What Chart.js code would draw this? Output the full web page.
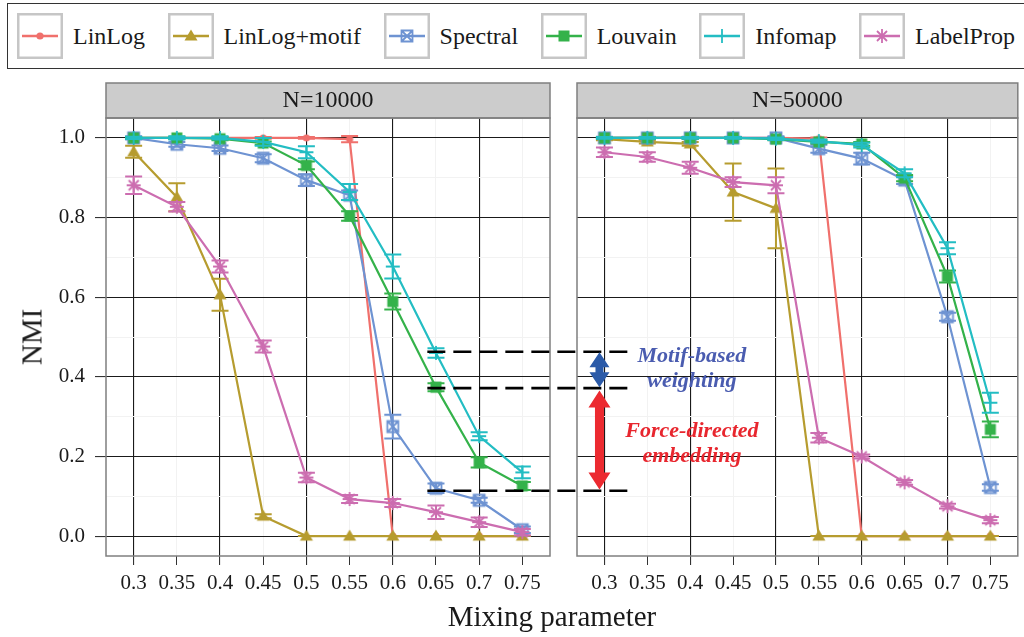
<!DOCTYPE html>
<html lang="en">
<head>
<meta charset="UTF-8">
<title>NMI - mixing parameter</title>
<script src="https://cdn.jsdelivr.net/npm/chart.js"></script>
<style>
    body { margin: 0; width: 1024px; height: 637px; position: relative; overflow: hidden; background: #fff;
           font-family: "Liberation Serif", "DejaVu Serif", serif; color: #1a1a1a; }
    .legenda { position: absolute; left: 7px; top: 3px; width: 1040px; height: 66px; box-sizing: border-box;
               border: 1.5px solid #333; display: flex; align-items: center; padding-left: 9px; }
    .item { display: flex; align-items: center; margin-right: 22.5px; font-size: 24px; white-space: nowrap; }
    .item canvas { margin-right: 10px; }
    #painel1 { position: absolute; left: 0; top: 75px; }
    #painel2 { position: absolute; left: 560px; top: 75px; }
    #anotacao { position: absolute; left: 0; top: 0; pointer-events: none; }
    .tituloX { position: absolute; left: 96px; width: 912px; top: 600px; text-align: center; font-size: 29px; }
    .tituloY { position: absolute; left: 32px; top: 337px; font-size: 29px; transform: translate(-50%, -50%) rotate(-90deg); }
</style>
</head>
<body>

<div class="legenda" id="legenda"></div>

<canvas id="painel1" width="560" height="562"></canvas>
<canvas id="painel2" width="464" height="562"></canvas>
<canvas id="anotacao" width="1024" height="637"></canvas>

<div class="tituloY">NMI</div>
<div class="tituloX">Mixing parameter</div>

<script>
    // ---- dados ----
    const mistura = [0.3, 0.35, 0.4, 0.45, 0.5, 0.55, 0.6, 0.65, 0.7, 0.75];
    const xRotulos = ['0.3', '0.35', '0.4', '0.45', '0.5', '0.55', '0.6', '0.65', '0.7', '0.75'];
    const yTicks = [0, 0.1, 0.2, 0.3, 0.4, 0.5, 0.6, 0.7, 0.8, 0.9, 1.0];
    const yRotulos = ['0.0', '', '0.2', '', '0.4', '', '0.6', '', '0.8', '', '1.0'];

    const metodos = ['LinLog', 'LinLog+motif', 'Spectral', 'Louvain', 'Infomap', 'LabelProp'];
    const paineis = ['N=10000', 'N=50000'];

    // N=10000
    const linlog10k    = [1.000, 1.000, 1.000, 1.000, 1.000, 0.997, 0.000, 0.000, 0.000, 0.000];
    const motif10k     = [0.965, 0.851, 0.606, 0.050, 0.000, 0.000, 0.000, 0.000, 0.000, 0.000];
    const spectral10k  = [1.000, 0.984, 0.974, 0.949, 0.894, 0.856, 0.275, 0.120, 0.090, 0.016];
    const louvain10k   = [1.000, 1.000, 0.998, 0.987, 0.931, 0.804, 0.589, 0.374, 0.185, 0.126];
    const infomap10k   = [1.000, 1.000, 1.000, 0.990, 0.964, 0.864, 0.677, 0.460, 0.251, 0.160];
    const labelprop10k = [0.881, 0.827, 0.677, 0.476, 0.147, 0.093, 0.083, 0.060, 0.035, 0.010];

    const linlog10kErro    = [0.001, 0.001, 0.001, 0.002, 0.002, 0.008, 0.000, 0.000, 0.000, 0.000];
    const motif10kErro     = [0.015, 0.035, 0.040, 0.005, 0.000, 0.000, 0.000, 0.000, 0.000, 0.000];
    const spectral10kErro  = [0.004, 0.006, 0.007, 0.010, 0.015, 0.012, 0.030, 0.012, 0.006, 0.008];
    const louvain10kErro   = [0.002, 0.003, 0.004, 0.004, 0.010, 0.012, 0.020, 0.010, 0.013, 0.010];
    const infomap10kErro   = [0.003, 0.004, 0.004, 0.010, 0.015, 0.020, 0.030, 0.012, 0.010, 0.015];
    const labelprop10kErro = [0.022, 0.012, 0.015, 0.015, 0.012, 0.010, 0.010, 0.017, 0.012, 0.008];

    // N=50000
    const linlog50k    = [1.000, 1.000, 1.000, 1.000, 1.000, 0.998, 0.000, 0.000, 0.000, 0.000];
    const motif50k     = [0.997, 0.990, 0.985, 0.864, 0.823, 0.000, 0.000, 0.000, 0.000, 0.000];
    const spectral50k  = [1.000, 1.000, 1.000, 1.000, 1.000, 0.973, 0.948, 0.894, 0.551, 0.122];
    const louvain50k   = [1.000, 1.000, 1.000, 1.000, 0.997, 0.990, 0.985, 0.899, 0.652, 0.268];
    const infomap50k   = [1.000, 1.000, 1.000, 1.000, 0.998, 0.992, 0.982, 0.911, 0.723, 0.335];
    const labelprop50k = [0.964, 0.952, 0.925, 0.889, 0.881, 0.247, 0.200, 0.135, 0.075, 0.040];

    const linlog50kErro    = [0.001, 0.001, 0.001, 0.001, 0.002, 0.003, 0.000, 0.000, 0.000, 0.000];
    const motif50kErro     = [0.003, 0.004, 0.005, 0.072, 0.100, 0.000, 0.000, 0.000, 0.000, 0.000];
    const spectral50kErro  = [0.003, 0.003, 0.003, 0.003, 0.004, 0.010, 0.015, 0.010, 0.010, 0.008];
    const louvain50kErro   = [0.002, 0.002, 0.002, 0.002, 0.003, 0.004, 0.005, 0.008, 0.015, 0.020];
    const infomap50kErro   = [0.002, 0.002, 0.002, 0.002, 0.003, 0.004, 0.006, 0.010, 0.015, 0.025];
    const labelprop50kErro = [0.012, 0.012, 0.015, 0.012, 0.020, 0.012, 0.005, 0.006, 0.006, 0.008];

    // niveis das linhas tracejadas (painel N=10000)
    const niveisTracejado = [0.463, 0.3715, 0.114];

    // ---- estilo ----
    const cores = ['#f0706c', '#b69c2f', '#6e93d2', '#34b24a', '#23bdc3', '#cc6db0'];
    const marcadores = ['ponto', 'triangulo', 'quadradoX', 'quadrado', 'mais', 'asterisco'];
    const fonte = '"Liberation Serif", "DejaVu Serif", serif';

    function desenharMarcador(ctx, tipo, cx, cy, cor) {
        ctx.save();
        ctx.fillStyle = cor;
        ctx.strokeStyle = cor;
        ctx.lineWidth = 1.8;
        ctx.beginPath();
        if (tipo == 'ponto') {
            ctx.arc(cx, cy, 3.6, 0, Math.PI * 2);
            ctx.fill();
        } else if (tipo == 'triangulo') {
            ctx.moveTo(cx, cy - 6.5);
            ctx.lineTo(cx + 6.5, cy + 4.5);
            ctx.lineTo(cx - 6.5, cy + 4.5);
            ctx.closePath();
            ctx.fill();
        } else if (tipo == 'quadradoX') {
            ctx.rect(cx - 5.5, cy - 5.5, 11, 11);
            ctx.moveTo(cx - 5.5, cy - 5.5); ctx.lineTo(cx + 5.5, cy + 5.5);
            ctx.moveTo(cx + 5.5, cy - 5.5); ctx.lineTo(cx - 5.5, cy + 5.5);
            ctx.stroke();
        } else if (tipo == 'quadrado') {
            ctx.fillRect(cx - 5.5, cy - 5.5, 11, 11);
        } else if (tipo == 'mais') {
            ctx.moveTo(cx - 7, cy); ctx.lineTo(cx + 7, cy);
            ctx.moveTo(cx, cy - 7); ctx.lineTo(cx, cy + 7);
            ctx.stroke();
        } else if (tipo == 'asterisco') {
            ctx.moveTo(cx - 7, cy); ctx.lineTo(cx + 7, cy);
            ctx.moveTo(cx, cy - 7); ctx.lineTo(cx, cy + 7);
            ctx.moveTo(cx - 5, cy - 5); ctx.lineTo(cx + 5, cy + 5);
            ctx.moveTo(cx + 5, cy - 5); ctx.lineTo(cx - 5, cy + 5);
            ctx.stroke();
        }
        ctx.restore();
    }

    function imagemMarcador(tipo, cor) {
        const c = document.createElement('canvas');
        c.width = 18;
        c.height = 18;
        desenharMarcador(c.getContext('2d'), tipo, 9, 9, cor);
        return c;
    }

    // legenda em HTML
    const legenda = document.getElementById('legenda');
    for (let i = 0; i < metodos.length; i++) {
        const item = document.createElement('div');
        item.className = 'item';
        const chave = document.createElement('canvas');
        chave.width = 46;
        chave.height = 46;
        const c = chave.getContext('2d');
        c.strokeStyle = '#c6c6c6';
        c.lineWidth = 2.5;
        c.strokeRect(1.25, 1.25, 43.5, 43.5);
        c.strokeStyle = cores[i];
        c.lineWidth = 2.5;
        c.beginPath();
        c.moveTo(5, 23);
        c.lineTo(41, 23);
        c.stroke();
        desenharMarcador(c, marcadores[i], 23, 23, cores[i]);
        const texto = document.createElement('span');
        texto.textContent = metodos[i];
        item.appendChild(chave);
        item.appendChild(texto);
        legenda.appendChild(item);
    }

    // barras de erro, desenhadas logo apos cada serie
    const pluginErro = {
        id: 'barrasErro',
        afterDatasetDraw(chart, args) {
            const ds = chart.data.datasets[args.index];
            if (!ds.erro) return;
            const ctx = chart.ctx;
            const sx = chart.scales.x;
            const sy = chart.scales.y;
            const a = chart.chartArea;
            ctx.save();
            ctx.beginPath();
            ctx.rect(a.left, a.top, a.width, a.height);
            ctx.clip();
            ctx.strokeStyle = ds.borderColor;
            ctx.lineWidth = 2;
            for (let i = 0; i < ds.data.length; i++) {
                const p = ds.data[i];
                const e = ds.erro[i];
                const x = sx.getPixelForValue(p.x);
                const y1 = sy.getPixelForValue(p.y - e);
                const y2 = sy.getPixelForValue(p.y + e);
                ctx.beginPath();
                ctx.moveTo(x, y1); ctx.lineTo(x, y2);
                ctx.moveTo(x - 8.5, y1); ctx.lineTo(x + 8.5, y1);
                ctx.moveTo(x - 8.5, y2); ctx.lineTo(x + 8.5, y2);
                ctx.stroke();
            }
            ctx.restore();
        }
    };

    // faixa cinza com o titulo do painel e moldura
    const pluginPainel = {
        id: 'painel',
        afterDraw(chart, args, opts) {
            const ctx = chart.ctx;
            const a = chart.chartArea;
            ctx.save();
            ctx.fillStyle = '#cccccc';
            ctx.fillRect(a.left, a.top - 35, a.width, 35);
            ctx.strokeStyle = '#7f7f7f';
            ctx.lineWidth = 1.5;
            ctx.strokeRect(a.left, a.top - 35, a.width, 35);
            ctx.strokeRect(a.left, a.top, a.width, a.height);
            ctx.fillStyle = '#1a1a1a';
            ctx.font = '24px ' + fonte;
            ctx.textAlign = 'center';
            ctx.textBaseline = 'middle';
            ctx.fillText(opts.texto, (a.left + a.right) / 2, a.top - 17);
            ctx.restore();
        }
    };

    function montarSeries(valores, erros) {
        return metodos.map(function (nome, i) {
            return {
                label: nome,
                data: mistura.map((x, j) => ({ x: x, y: valores[i][j] })),
                erro: erros[i],
                borderColor: cores[i],
                backgroundColor: cores[i],
                borderWidth: 2.2,
                tension: 0,
                pointStyle: imagemMarcador(marcadores[i], cores[i]),
                pointRadius: 4,
                order: metodos.length - i
            };
        });
    }

    function opcoes(titulo, comEixoY) {
        return {
            responsive: false,
            animation: false,
            events: [],
            layout: { padding: { top: 43, right: comEixoY ? 10 : 6, left: 0, bottom: 0 } },
            plugins: {
                legend: { display: false },
                tooltip: { enabled: false },
                painel: { texto: titulo }
            },
            scales: {
                x: {
                    type: 'linear',
                    min: 0.268,
                    max: 0.782,
                    afterBuildTicks: function (s) { s.ticks = mistura.map(v => ({ value: v })); },
                    afterFit: function (s) { s.height = 81; },
                    border: { display: false },
                    grid: {
                        color: c => (c.index % 2 == 0 ? '#1a1a1a' : '#f2f2f2'),
                        lineWidth: c => (c.index % 2 == 0 ? 1.1 : 1),
                        tickColor: '#333',
                        tickLength: 9
                    },
                    ticks: {
                        autoSkip: false,
                        maxRotation: 0,
                        padding: 6,
                        color: '#1a1a1a',
                        font: { family: fonte, size: 21 },
                        callback: (v, i) => xRotulos[i]
                    }
                },
                y: {
                    min: -0.05,
                    max: 1.05,
                    afterBuildTicks: function (s) { s.ticks = yTicks.map(v => ({ value: v })); },
                    afterFit: function (s) { s.width = comEixoY ? 106 : 17; },
                    border: { display: false },
                    grid: {
                        color: c => (c.index % 2 == 0 ? '#1a1a1a' : '#f2f2f2'),
                        lineWidth: c => (c.index % 2 == 0 ? 1.1 : 1),
                        tickColor: c => (c.index % 2 == 0 ? '#333' : 'rgba(0,0,0,0)'),
                        tickLength: 11,
                        drawTicks: comEixoY
                    },
                    ticks: {
                        display: comEixoY,
                        padding: 10,
                        color: '#1a1a1a',
                        font: { family: fonte, size: 21 },
                        callback: (v, i) => yRotulos[i]
                    }
                }
            }
        };
    }

    const grafico1 = new Chart(document.getElementById('painel1'), {
        type: 'line',
        data: {
            datasets: montarSeries(
                [linlog10k, motif10k, spectral10k, louvain10k, infomap10k, labelprop10k],
                [linlog10kErro, motif10kErro, spectral10kErro, louvain10kErro, infomap10kErro, labelprop10kErro])
        },
        options: opcoes(paineis[0], true),
        plugins: [pluginErro, pluginPainel]
    });

    const grafico2 = new Chart(document.getElementById('painel2'), {
        type: 'line',
        data: {
            datasets: montarSeries(
                [linlog50k, motif50k, spectral50k, louvain50k, infomap50k, labelprop50k],
                [linlog50kErro, motif50kErro, spectral50kErro, louvain50kErro, infomap50kErro, labelprop50kErro])
        },
        options: opcoes(paineis[1], false),
        plugins: [pluginErro, pluginPainel]
    });

    // ---- anotacao: tracejados, setas e textos (usa as escalas dos dois paineis) ----
    function setaDupla(ctx, x, yTopo, yBase, cor, larguraCabeca, alturaCabeca, larguraHaste) {
        ctx.fillStyle = cor;
        ctx.beginPath();
        ctx.moveTo(x, yTopo);
        ctx.lineTo(x + larguraCabeca / 2, yTopo + alturaCabeca);
        ctx.lineTo(x + larguraHaste / 2, yTopo + alturaCabeca);
        ctx.lineTo(x + larguraHaste / 2, yBase - alturaCabeca);
        ctx.lineTo(x + larguraCabeca / 2, yBase - alturaCabeca);
        ctx.lineTo(x, yBase);
        ctx.lineTo(x - larguraCabeca / 2, yBase - alturaCabeca);
        ctx.lineTo(x - larguraHaste / 2, yBase - alturaCabeca);
        ctx.lineTo(x - larguraHaste / 2, yTopo + alturaCabeca);
        ctx.lineTo(x - larguraCabeca / 2, yTopo + alturaCabeca);
        ctx.closePath();
        ctx.fill();
    }

    function desenharAnotacao() {
        const ctx = document.getElementById('anotacao').getContext('2d');
        const topo1 = 75, esq2 = 560;
        const py = v => topo1 + grafico1.scales.y.getPixelForValue(v);
        const px1 = v => grafico1.scales.x.getPixelForValue(v);
        const px2 = v => esq2 + grafico2.scales.x.getPixelForValue(v);

        ctx.save();
        ctx.strokeStyle = '#000';
        ctx.lineWidth = 2.6;
        ctx.setLineDash([18, 8]);
        niveisTracejado.forEach(function (v) {
            ctx.beginPath();
            ctx.moveTo(px1(0.64), py(v));
            ctx.lineTo(px2(0.328), py(v));
            ctx.stroke();
        });
        ctx.setLineDash([]);

        const xs = px2(0.2942);
        setaDupla(ctx, xs, py(0.462), py(0.3735), '#2b5aa8', 20, 15, 8);
        setaDupla(ctx, xs, py(0.3655), py(0.117), '#ec2a30', 22, 17, 9);

        ctx.font = 'italic bold 22px ' + fonte;
        ctx.textAlign = 'center';
        ctx.textBaseline = 'alphabetic';
        const xt = px2(0.402);
        ctx.fillStyle = '#4a5cb0';
        ctx.fillText('Motif-based', xt, py(0.436));
        ctx.fillText('weighting', xt, py(0.373) - 1);
        ctx.fillStyle = '#e8262e';
        ctx.fillText('Force-directed', xt, py(0.2485));
        ctx.fillText('embedding', xt, py(0.185));
        ctx.restore();
    }

    desenharAnotacao();
</script>

</body>
</html>
